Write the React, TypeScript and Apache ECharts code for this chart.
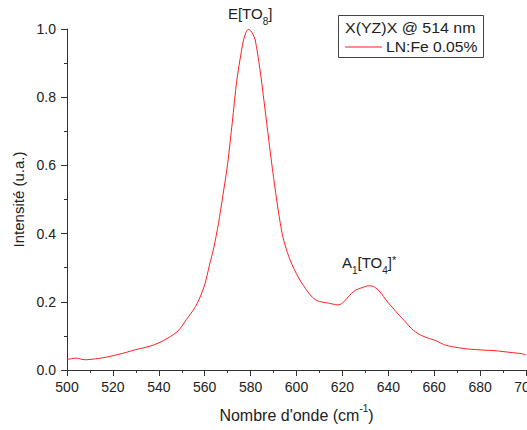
import React, { useEffect, useRef } from "react";
import * as echarts from "echarts";

const wavenumbers = [
  500, 502, 504, 506, 508, 510, 514, 518, 522, 526, 530, 534, 538, 542, 545, 548,
  550, 552, 554, 556, 558, 560, 562, 564, 566, 568, 570, 572, 574, 576, 577, 578,
  579, 580, 581, 582, 584, 586, 588, 590, 592, 594, 596, 598, 600, 602, 604, 606,
  608, 610, 612, 614, 616, 618, 620, 622, 624, 626, 628, 630, 632, 634, 636, 638,
  640, 642, 644, 646, 648, 650, 652, 654, 656, 658, 660, 662, 664, 666, 668, 670,
  674, 678, 682, 686, 690, 694, 698, 700,
];
const intensities = [
  0.031, 0.033, 0.035, 0.032, 0.03, 0.031, 0.034, 0.039, 0.045, 0.052, 0.06, 0.066, 0.074, 0.086, 0.098, 0.112,
  0.128, 0.148, 0.166, 0.186, 0.214, 0.25, 0.305, 0.36, 0.43, 0.515, 0.605, 0.725, 0.85, 0.935, 0.97, 0.99,
  0.999, 0.995, 0.985, 0.968, 0.885, 0.78, 0.67, 0.565, 0.47, 0.392, 0.345, 0.31, 0.282, 0.258, 0.238, 0.22,
  0.207, 0.201, 0.198, 0.196, 0.193, 0.191, 0.196, 0.21, 0.225, 0.235, 0.24, 0.245, 0.247, 0.243, 0.232, 0.215,
  0.197, 0.182, 0.166, 0.152, 0.137, 0.122, 0.111, 0.103, 0.097, 0.092, 0.088, 0.082, 0.075, 0.071, 0.068, 0.066,
  0.062, 0.06, 0.058, 0.057, 0.054, 0.051, 0.048, 0.044,
];

const seriesName = "LN:Fe 0.05%";
const legendTitle = "X(YZ)X @ 514 nm";

const FONT = "Liberation Sans, Arial, sans-serif";
const TXT = "#222";

const subRich = (size: number) => ({
  a: { fontSize: size, fill: TXT, fontFamily: FONT, lineHeight: 16, verticalAlign: "top" },
  b: { fontSize: 10, fill: TXT, fontFamily: FONT, lineHeight: 10, verticalAlign: "bottom" },
  c: { fontSize: 11, fill: TXT, fontFamily: FONT, lineHeight: 12, verticalAlign: "top" },
  z: { fontSize: 1, fill: TXT, fontFamily: FONT, lineHeight: 21, verticalAlign: "top" },
});

export default function App() {
  const ref = useRef<HTMLDivElement>(null);
  useEffect(() => {
    if (!ref.current) return;
    const chart = echarts.init(ref.current, null, { renderer: "svg" });
    const data = wavenumbers.map((x, i) => [x, intensities[i]]);
    chart.setOption({
      animation: false,
      backgroundColor: "#fff",
      textStyle: { fontFamily: FONT },
      grid: { left: 67, right: 1, top: 29, bottom: 60, containLabel: false, outerBoundsMode: "none" },
      xAxis: {
        type: "value",
        min: 500,
        max: 700,
        interval: 20,
        name: "{a|Nombre d'onde (cm}{s|-1}{a|)}",
        nameLocation: "middle",
        nameGap: 33,
        nameTextStyle: {
          rich: {
            a: { fontSize: 16, color: TXT, fontFamily: FONT, lineHeight: 20, verticalAlign: "bottom" },
            s: { fontSize: 10, color: TXT, fontFamily: FONT, lineHeight: 11, verticalAlign: "top" },
          },
        },
        axisLine: { show: true, lineStyle: { color: "#333", width: 1 } },
        axisTick: { show: true, length: 6, lineStyle: { color: "#333" } },
        minorTick: { show: true, splitNumber: 2, length: 3, lineStyle: { color: "#333" } },
        splitLine: { show: false },
        axisLabel: { fontSize: 14, color: TXT, margin: 10, fontFamily: FONT },
      },
      yAxis: {
        type: "value",
        min: 0,
        max: 1,
        interval: 0.2,
        name: "Intensité (u.a.)",
        nameLocation: "middle",
        nameGap: 40,
        nameTextStyle: { fontSize: 15, color: TXT, fontFamily: FONT },
        axisLine: { show: true, lineStyle: { color: "#333", width: 1 } },
        axisTick: { show: true, length: 6, lineStyle: { color: "#333" } },
        minorTick: { show: true, splitNumber: 2, length: 3, lineStyle: { color: "#333" } },
        splitLine: { show: false },
        axisLabel: {
          fontSize: 14,
          color: TXT,
          margin: 11,
          fontFamily: FONT,
          formatter: (v: number) => v.toFixed(1),
        },
      },
      series: [
        {
          name: seriesName,
          type: "line",
          data,
          smooth: 0.3,
          showSymbol: false,
          lineStyle: { color: "#ff2020", width: 1 },
        },
      ],
      graphic: [
        {
          type: "text",
          x: 250,
          y: 16,
          style: {
            text: "{z| }{a|E[TO}{b|8}{a|]}",
            align: "center",
            verticalAlign: "middle",
            rich: subRich(15),
          },
        },
        {
          type: "text",
          x: 369,
          y: 265,
          style: {
            text: "{z| }{a|A}{b|1}{a|[TO}{b|4}{a|]}{c|*}",
            align: "center",
            verticalAlign: "middle",
            rich: subRich(15),
          },
        },
        {
          type: "rect",
          shape: { x: 338.5, y: 15.5, width: 145, height: 42 },
          style: { fill: "#fff", stroke: "#444", lineWidth: 1 },
        },
        {
          type: "text",
          x: 345,
          y: 28,
          scaleX: 1.14,
          style: {
            text: legendTitle,
            fontSize: 14,
            fontFamily: FONT,
            fill: TXT,
            verticalAlign: "middle",
          },
        },
        {
          type: "line",
          shape: { x1: 345, y1: 47, x2: 382, y2: 47 },
          style: { stroke: "#ff2020", lineWidth: 1 },
        },
        {
          type: "text",
          x: 386,
          y: 47,
          scaleX: 1.12,
          style: {
            text: seriesName,
            fontSize: 14,
            fontFamily: FONT,
            fill: TXT,
            verticalAlign: "middle",
          },
        },
      ],
    });
    return () => chart.dispose();
  }, []);
  return <div ref={ref} style={{ width: 527, height: 430, position: "absolute", left: 0, top: 0 }} />;
}
